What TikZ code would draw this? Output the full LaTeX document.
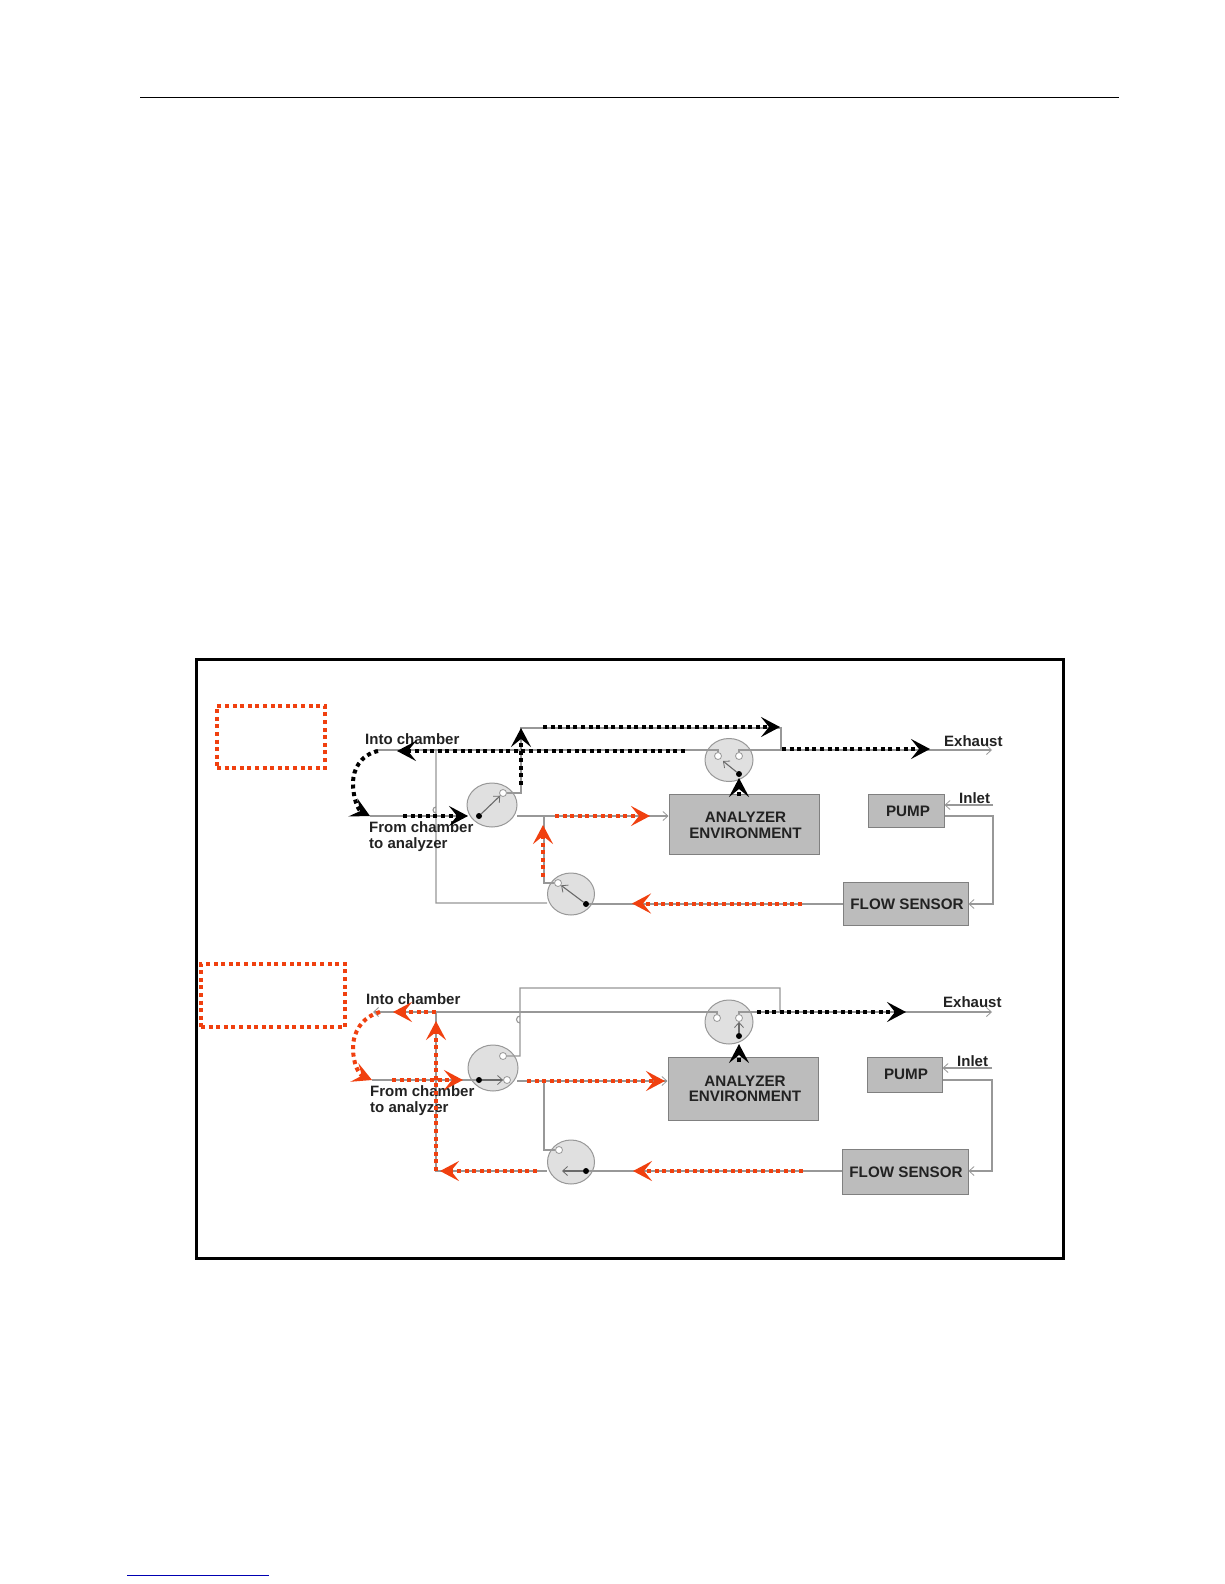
\documentclass[tikz,border=0pt]{standalone}
\usepackage{fontspec}
\setmainfont{Liberation Sans}
\usetikzlibrary{arrows.meta,shapes.geometric}
\definecolor{redf}{HTML}{F0400F}
\definecolor{pipe}{HTML}{989898}
\definecolor{boxf}{HTML}{BCBCBC}
\definecolor{boxd}{HTML}{808080}
\definecolor{circf}{HTML}{E0E0E0}
\definecolor{txt}{HTML}{222222}
\tikzset{
  pipeline/.style={draw=pipe,line width=1.1pt},
  pipearrow/.style={pipeline,-{Straight Barb[length=5pt,width=9pt,line width=.8pt]}},
  flowblack/.style={draw=black,line width=4pt,dash pattern=on 4pt off 3.6pt,-{Stealth[length=19pt,width=20pt,inset=8pt]}},
  flowred/.style={flowblack,draw=redf,-{Stealth[length=19pt,width=20pt,inset=8pt,color=redf]}},
  redbox/.style={draw=redf,line width=4pt,dash pattern=on 4pt off 3.6pt},
  box/.style={draw=boxd,fill=boxf,line width=1pt,inner sep=0pt},
  boxtext/.style={inner sep=0pt,font=\bfseries\fontsize{15.2}{15.4}\selectfont,text=txt,align=center},
  valve/.style={ellipse,draw=pipe,fill=circf,line width=1pt,inner sep=0pt},
  lab/.style={inner sep=0pt,font=\bfseries\fontsize{15}{16.5}\selectfont,text=txt,align=left},
  bdot/.style={circle,fill=black,minimum size=6pt,inner sep=0pt},
  wdot/.style={circle,fill=white,draw=pipe,line width=.8pt,minimum size=7pt,inner sep=0pt},
  valvearrow/.style={draw=pipe!70!black,line width=1.1pt,-{Straight Barb[length=5pt,width=9pt,line width=.8pt]}},
}
\begin{document}
\begin{tikzpicture}[x=1pt,y=-1pt]
\useasboundingbox (0,0) rectangle (1224,1584);
\fill[white] (0,0) rectangle (1224,1584);
% page rules
\coordinate (ruleL) at (140,98); \coordinate (ruleR) at (1119,98);
\draw[black,line width=1pt] (ruleL) -- (ruleR);
\coordinate (footL) at (127,1575); \coordinate (footR) at (269,1575);
\draw[blue!70!black,line width=1pt] (footL) -- (footR);
% frame
\node[draw=black,line width=3pt,minimum width=867pt,minimum height=599pt,inner sep=0pt] (frame) at (630,958.5) {};
\node[redbox,minimum width=108pt,minimum height=62pt,inner sep=0pt] (modeA) at (271,737) {};
\node[redbox,minimum width=144pt,minimum height=63pt,inner sep=0pt] (modeB) at (273,995.5) {};

%% ---------- UPPER ----------
\node[box,minimum width=150pt,minimum height=60pt] (anA) at (744,824) {};
\node[box,minimum width=76pt,minimum height=33pt] (puA) at (906,810.5) {};
\node[box,minimum width=125pt,minimum height=43pt] (flA) at (905.5,903.5) {};
\node[valve,minimum width=50pt,minimum height=44pt] (v1A) at (492,805) {};
\node[valve,minimum width=47pt,minimum height=42pt] (v2A) at (571,894) {};
\node[valve,minimum width=48pt,minimum height=43pt] (v3A) at (729,760) {};
\coordinate (intoA) at (375,750);
\coordinate (fromA) at (370,816);
\coordinate (exA) at (992,750);
\coordinate (inA) at (993,805);
\coordinate (j1A) at (436,750);
\coordinate (j2A) at (436,903);
\coordinate (jumpA) at (781,750);
\coordinate (tapA) at (544,816);
% pipes
\node[bdot] (d1A) at (479,816) {};
\node[wdot] (w1A) at (503,793) {};
\node[bdot] (d2A) at (586,904) {};
\node[wdot] (w2A) at (558,883) {};
\node[bdot] (d3A) at (739,774) {};
\node[wdot] (w3aA) at (718,756) {};
\node[wdot] (w3bA) at (739,756) {};
\draw[pipeline] (fromA) -- (v1A.west|-d1A);
\draw[pipeline] (intoA) -- (718,750) -- (w3aA);
\draw[pipeline] (w3bA) -- (739,750) -- (jumpA);
\draw[pipearrow] (jumpA) -- (exA);
\draw[pipeline] (j1A) -- (436,813) arc[start angle=270,end angle=90,radius=3pt] -- (j2A) -- (v2A.west|-j2A);
\draw[pipeline] (w1A) -- (521,793) -- (521,728) -- (781,728) -- (jumpA);
\draw[pipearrow] (517,816) -- (anA.west|-tapA);
\draw[pipeline] (tapA) -- (544,883) -- (w2A);
\draw[pipeline] (d2A) -- (flA.west|-d2A);
\draw[pipearrow] (inA) -- (puA.east|-inA);
\draw[pipearrow] (puA.east|-tapA) -- (993,816) -- (993,904) -- (flA.east|-d2A);
\draw[valvearrow] (d1A) -- (w1A);
\draw[valvearrow] (d2A) -- (w2A);
\draw[valvearrow] (d3A) -- (723,761);
% labels
\node[lab,anchor=west] (tiA) at (365,739.5) {Into chamber};
\node[lab,anchor=north west] (tfA) at (369,821) {From chamber\\to analyzer};
\node[lab,anchor=west] (teA) at (944,741) {Exhaust};
\node[lab,anchor=west] (tnA) at (959,798) {Inlet};
\node[boxtext] (taA) at (745.5,825.5) {ANALYZER\\ENVIRONMENT};
\node[boxtext] (tpA) at (908,811) {PUMP};
\node[boxtext] (tsA) at (907,904) {FLOW SENSOR};
% flows
\draw[flowblack] (543,727) -- (780,727);
\draw[flowblack] (685,751) -- (397,751);
\draw[flowblack] (378,751) .. controls (360,755) and (353,770) .. (353,783) .. controls (353,798) and (358,810) .. (370,816);
\draw[flowblack] (403,816) -- (468,816);
\draw[flowblack] (521,785) -- (521,728);
\draw[flowblack] (782,749) -- (930,749);
\draw[flowblack] (739,796) -- (739,778);
\draw[flowred] (555,816) -- (650,816);
\draw[flowred] (543,877) -- (543,825);
\draw[flowred] (802,903.5) -- (632,903.5);

%% ---------- LOWER ----------
\node[box,minimum width=150pt,minimum height=63pt] (anB) at (743,1088.5) {};
\node[box,minimum width=75pt,minimum height=35pt] (puB) at (904.5,1074.5) {};
\node[box,minimum width=126pt,minimum height=45pt] (flB) at (905,1171.5) {};
\node[valve,minimum width=50pt,minimum height=46pt] (v1B) at (493,1068) {};
\node[valve,minimum width=47pt,minimum height=44pt] (v2B) at (571,1162) {};
\node[valve,minimum width=48pt,minimum height=44pt] (v3B) at (729,1022) {};
\coordinate (intoB) at (373,1012);
\coordinate (fromB) at (372,1080);
\coordinate (exB) at (992,1012);
\coordinate (inB) at (992,1068);
\coordinate (j1B) at (436,1012);
\coordinate (j2B) at (436,1171);
\coordinate (jumpB) at (780,1012);
\coordinate (tapB) at (544,1081);
\node[bdot] (d1B) at (479,1080) {};
\node[wdot] (w1B) at (507,1080) {};
\node[wdot] (w4B) at (503,1056) {};
\node[bdot] (d2B) at (586,1171) {};
\node[wdot] (w2B) at (559,1150) {};
\node[bdot] (d3B) at (739,1036) {};
\node[wdot] (w3aB) at (717,1018) {};
\node[wdot] (w3bB) at (739,1018) {};
\draw[pipearrow] (j1B) -- (intoB);
\draw[pipeline] (fromB) -- (d1B);
\draw[pipeline] (j1B) -- (717,1012) -- (w3aB);
\draw[pipeline] (w3bB) -- (739,1012) -- (jumpB);
\draw[pipearrow] (jumpB) -- (exB);
\draw[pipeline] (j1B) -- (j2B) -- (v2B.west|-j2B);
\draw[pipeline] (w4B) -- (520,1056) -- (520,1016) arc[start angle=90,end angle=270,radius=3.5pt] -- (520,988) -- (780,988) -- (jumpB);
\draw[pipearrow] (517,1081) -- (anB.west|-tapB);
\draw[pipeline] (tapB) -- (544,1150) -- (w2B);
\draw[pipeline] (d2B) -- (flB.west|-d2B);
\draw[pipearrow] (inB) -- (puB.east|-inB);
\draw[pipearrow] (puB.east|-d1B) -- (992,1080) -- (992,1171) -- (flB.east|-d2B);
\draw[valvearrow] (d1B) -- (w1B);
\draw[valvearrow] (d2B) -- (562,1171);
\draw[valvearrow] (d3B) -- (w3bB);
% labels
\node[lab,anchor=west] (tiB) at (366,999.5) {Into chamber};
\node[lab,anchor=north west] (tfB) at (370,1085) {From chamber\\to analyzer};
\node[lab,anchor=west] (teB) at (943,1002) {Exhaust};
\node[lab,anchor=west] (tnB) at (957,1061) {Inlet};
\node[boxtext] (taB) at (745,1089) {ANALYZER\\ENVIRONMENT};
\node[boxtext] (tpB) at (906,1074) {PUMP};
\node[boxtext] (tsB) at (906,1172) {FLOW SENSOR};
% flows
\draw[flowred] (436,1012) -- (393,1012);
\draw[flowred] (380,1012) .. controls (362,1017) and (353,1032) .. (353,1048) .. controls (353,1062) and (358,1074) .. (372,1080);
\draw[flowred] (392,1080) -- (463,1080);
\draw[flowred] (436,1171) -- (436,1021);
\draw[flowred] (537,1171) -- (440,1171);
\draw[flowred] (527,1081) -- (665,1081);
\draw[flowred] (803,1171) -- (633,1171);
\draw[flowblack] (757,1012) -- (906,1012);
\draw[flowblack] (739,1062) -- (739,1044);
\end{tikzpicture}
\end{document}
